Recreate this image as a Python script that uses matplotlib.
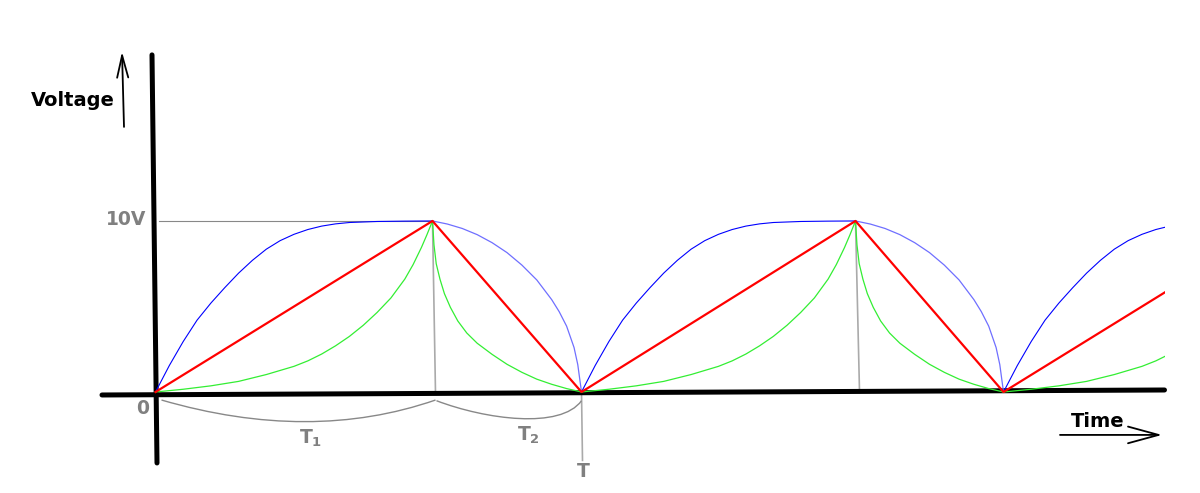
import matplotlib
matplotlib.use('Agg')
import matplotlib.pyplot as plt
import numpy as np
from matplotlib.patches import PathPatch, Rectangle
from matplotlib.path import Path

# cycle timing (arbitrary time units)
rise_start = [0.0, 4.26, 8.48]
rise_len = [2.77, 2.74, 2.77]
fall_len = [1.49, 1.48, 1.49]
t_end = 10.09
v_peak = 10

# curve shapes read from the first cycle (s = fraction of the phase, value in volts)
blue_rise_s = [0, 0.05, 0.1, 0.15, 0.2, 0.25, 0.3, 0.35, 0.4, 0.45, 0.5, 0.55, 0.6, 0.65, 0.7, 0.8, 0.9, 1.0]
blue_rise_v = [0, 1.55, 2.95, 4.2, 5.2, 6.1, 6.95, 7.7, 8.35, 8.85, 9.22, 9.5, 9.7, 9.83, 9.91, 9.97, 9.99, 10]
green_rise_s = [0, 0.1, 0.2, 0.3, 0.4, 0.5, 0.55, 0.6, 0.65, 0.7, 0.75, 0.8, 0.85, 0.9, 0.93, 0.96, 0.98, 1.0]
green_rise_v = [0, 0.16, 0.36, 0.62, 1.02, 1.5, 1.82, 2.22, 2.7, 3.25, 3.9, 4.65, 5.5, 6.6, 7.45, 8.45, 9.2, 10]
blue_fall_s = [0, 0.1, 0.2, 0.3, 0.4, 0.5, 0.6, 0.7, 0.8, 0.85, 0.9, 0.95, 0.975, 1.0]
blue_fall_v = [10, 9.82, 9.56, 9.2, 8.73, 8.15, 7.42, 6.55, 5.4, 4.7, 3.85, 2.6, 1.6, 0]
green_fall_s = [0, 0.01, 0.025, 0.05, 0.08, 0.12, 0.17, 0.23, 0.3, 0.4, 0.5, 0.6, 0.7, 0.8, 0.9, 1.0]
green_fall_v = [10, 8.6, 7.5, 6.6, 5.75, 4.95, 4.15, 3.45, 2.85, 2.2, 1.62, 1.15, 0.75, 0.45, 0.2, 0]

GRAY = '#808080'

fig = plt.figure(figsize=(12, 4.93), dpi=100)
ax = fig.add_axes([0, 0, 1, 1])
ax.set_xlim(-1.555, 10.445)
ax.set_ylim(-5.906, 22.92)
ax.axis('off')

clip = Rectangle((-2, -10), t_end + 2, 40, transform=ax.transData)

def phase(start, length, s, v, **kw):
    tt = start + length * np.asarray(s)
    ln, = ax.plot(tt, v, solid_joinstyle='round', **kw)
    ln.set_clip_path(clip)

red_t, red_v = [], []
for st, rl, fl in zip(rise_start, rise_len, fall_len):
    phase(st, rl, blue_rise_s, blue_rise_v, color='#0000ff', lw=0.8, zorder=3)
    phase(st, rl, green_rise_s, green_rise_v, color='#33ee33', lw=0.9, zorder=3)
    phase(st + rl, fl, blue_fall_s, blue_fall_v, color='#6f6fff', lw=0.9, zorder=3)
    phase(st + rl, fl, green_fall_s, green_fall_v, color='#33ee33', lw=0.9, zorder=3)
    red_t += [st, st + rl]
    red_v += [0, v_peak]
red_t.append(rise_start[-1] + rise_len[-1] + fall_len[-1])
red_v.append(0)
ln, = ax.plot(red_t, red_v, color='#ff0000', lw=1.6, zorder=4)
ln.set_clip_path(clip)

# axes drawn by hand, slightly skewed like the sketch
ax.plot([-0.035, 0.015], [19.71, -4.15], color='black', lw=3.6, solid_capstyle='round', zorder=2)
ax.plot([-0.535, t_end], [-0.175, 0.117], color='black', lw=3.6, solid_capstyle='round', zorder=2)

# guide lines
ax.plot([0.03, rise_len[0]], [v_peak, v_peak], color='#888888', lw=0.8, zorder=1)
t_pk1 = rise_start[0] + rise_len[0]
t_pk2 = rise_start[1] + rise_len[1]
ax.plot([t_pk1, t_pk1 + 0.03], [v_peak, -0.05], color='#aaaaaa', lw=1.2, zorder=1)
ax.plot([t_pk2, t_pk2 + 0.04], [v_peak, 0.05], color='#aaaaaa', lw=1.2, zorder=1)
ax.plot([rise_start[1], rise_start[1] + 0.01], [0, -4.0], color='#aaaaaa', lw=1.2, zorder=1)

# braces under the time axis
b1 = Path([(0.06, -0.47), (1.55, -3.0), (2.80, -0.47)], [Path.MOVETO, Path.CURVE3, Path.CURVE3])
b2 = Path([(2.81, -0.51), (3.3, -1.6), (4.05, -2.2), (4.26, -0.51)],
          [Path.MOVETO, Path.CURVE4, Path.CURVE4, Path.CURVE4])
for b in (b1, b2):
    ax.add_patch(PathPatch(b, fill=False, edgecolor='#888888', lw=1.0))

txt = dict(fontsize=13.5, fontweight='bold', ha='center', va='center')
ax.text(1.555, -2.69, r'$\mathbf{T_1}$', color=GRAY, **txt)
ax.text(3.725, -2.51, r'$\mathbf{T_2}$', color=GRAY, **txt)
ax.text(4.275, -4.62, 'T', color=GRAY, **txt)
ax.text(-0.125, -0.94, '0', color=GRAY, **txt)
ax.text(-0.295, 10.06, '10V', color=GRAY, **txt)
txt['fontsize'] = 14
ax.text(-0.825, 17.02, 'Voltage', color='black', **txt)
ax.text(9.425, -1.70, 'Time', color='black', **txt)

ax.annotate('', xy=(-0.335, 19.9), xytext=(-0.315, 15.5),
            arrowprops=dict(arrowstyle='->,head_length=1.6,head_width=0.4', lw=1.3, color='black',
                            shrinkA=0, shrinkB=0))
ax.annotate('', xy=(10.065, -2.51), xytext=(9.045, -2.51),
            arrowprops=dict(arrowstyle='->,head_length=2.2,head_width=0.6', lw=1.3, color='black',
                            shrinkA=0, shrinkB=0))

fig.savefig('out.png', dpi=100)
